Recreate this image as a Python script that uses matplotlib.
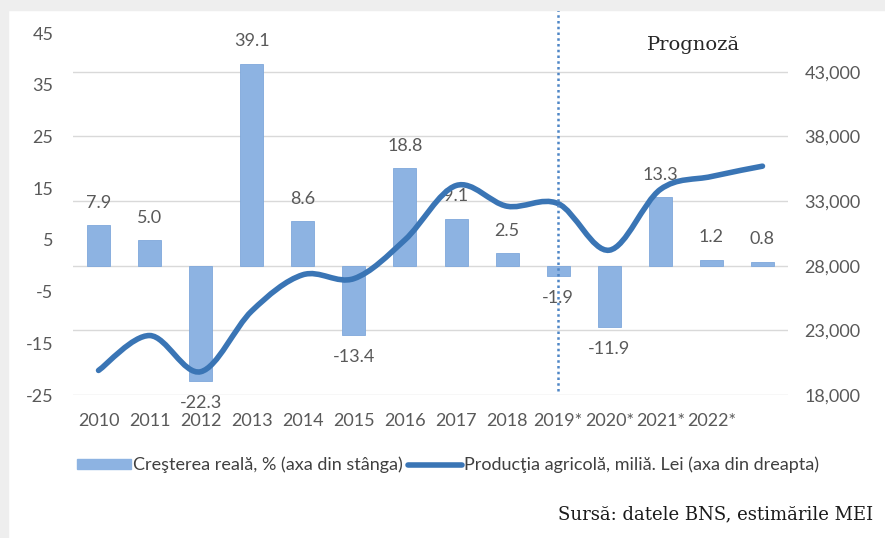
import matplotlib
matplotlib.use("Agg")
import matplotlib.pyplot as plt
from matplotlib.path import Path
from matplotlib.patches import PathPatch, Patch, Rectangle
from matplotlib.lines import Line2D

plt.rcParams["axes.unicode_minus"] = False

# data
years = ["2010", "2011", "2012", "2013", "2014", "2015", "2016", "2017", "2018",
         "2019*", "2020*", "2021*", "2022*", ""]
growth = [7.9, 5.0, -22.3, 39.1, 8.6, -13.4, 18.8, 9.1, 2.5, -1.9, -11.9, 13.3, 1.2, 0.8]
production = [19900, 22600, 19800, 24500, 27300, 27000, 30000, 34200, 32600,
              32800, 29200, 33900, 34900, 35700]
left_ticks = [-25, -15, -5, 5, 15, 25, 35, 45]
right_ticks = [18000, 23000, 28000, 33000, 38000, 43000]

gray = "#595959"
bar_col = "#8db3e2"
line_col = "#3a75b5"
fs = 13

fig = plt.figure(figsize=(8.85, 5.38), dpi=100)
fig.patches.append(Rectangle((0, 1 - 10 / 538), 1, 10 / 538, transform=fig.transFigure,
                             color="#eeeeee", zorder=0))
fig.patches.append(Rectangle((0, 0), 8 / 885, 1, transform=fig.transFigure,
                             color="#eeeeee", zorder=0))

ax1 = fig.add_axes([73 / 885, 1 - 395 / 538, 715 / 885, 362 / 538])
ax2 = ax1.twinx()
ax2.set_zorder(ax1.get_zorder() - 1)
ax1.patch.set_visible(False)

x = list(range(len(years)))
ax1.bar(x, growth, width=0.45, color=bar_col, edgecolor="#7fa8db", linewidth=0.6, zorder=2)
ax1.set_ylim(-25, 45)
ax1.set_xlim(-0.5, len(years) - 0.5)
ax1.set_yticks(left_ticks)
ax1.set_xticks(x)
ax1.set_xticklabels(years)

ax2.set_ylim(18000, 46000)
ax2.set_yticks(right_ticks)
ax2.set_yticklabels([f"{v:,}" for v in right_ticks])
ax2.grid(axis="y", color="#d9d9d9", linewidth=1)
ax2.set_axisbelow(True)

for ax in (ax1, ax2):
    for s in ax.spines.values():
        s.set_visible(False)
ax1.tick_params(axis="y", length=0, pad=14, labelsize=fs, labelcolor=gray)
ax1.tick_params(axis="x", length=0, pad=13, labelsize=fs, labelcolor=gray)
ax2.tick_params(axis="y", length=0, pad=12, labelsize=fs, labelcolor=gray)
for lab in ax1.get_xticklabels() + ax1.get_yticklabels() + ax2.get_yticklabels():
    lab.set_family("Lato")

# data labels
for xi, v in zip(x, growth):
    off = 16 if v >= 0 else -16
    ax1.annotate(f"{v:.1f}", (xi, v), xytext=(0, off), textcoords="offset points",
                 ha="center", va="center", fontsize=fs, color=gray, family="Lato", zorder=3)

# smoothed line (Excel-like bezier through the points)
pts = list(zip(x, production))
verts = [pts[0]]
codes = [Path.MOVETO]
n = len(pts)
for i in range(n - 1):
    p0 = pts[i - 1] if i > 0 else pts[i]
    p1 = pts[i]
    p2 = pts[i + 1]
    p3 = pts[i + 2] if i + 2 < n else pts[i + 1]
    c1 = (p1[0] + (p2[0] - p0[0]) / 6, p1[1] + (p2[1] - p0[1]) / 6)
    c2 = (p2[0] - (p3[0] - p1[0]) / 6, p2[1] - (p3[1] - p1[1]) / 6)
    verts += [c1, c2, p2]
    codes += [Path.CURVE4] * 3
ax1.add_patch(PathPatch(Path(verts, codes), transform=ax2.transData, fill=False,
                        edgecolor=line_col, linewidth=4, capstyle="round", zorder=4))

# forecast separator
ax1.axvline(9, ymin=0.01, ymax=(395 - 8) / 362, color="#4f86c6", linestyle=(0, (1, 1.3)),
            linewidth=1.8, clip_on=False, zorder=5)
fig.text(693 / 885, 1 - 45 / 538, "Prognoză", ha="center", va="center", fontsize=14,
         family="DejaVu Serif", color="#262626")

handles = [Patch(facecolor=bar_col, edgecolor=bar_col),
           Line2D([0], [0], color=line_col, linewidth=4, solid_capstyle="round")]
fig.legend(handles, ["Creşterea reală, % (axa din stânga)",
                     "Producţia agricolă, miliă. Lei (axa din dreapta)"],
           loc="center", bbox_to_anchor=(448 / 885, 1 - 465 / 538), ncol=2, frameon=False,
           prop={"family": "Lato", "size": 13}, labelcolor="#404040",
           handlelength=3.0, handleheight=0.5, handletextpad=0.1, columnspacing=0.3)

fig.text(873 / 885, 1 - 514 / 538, "Sursă: datele BNS, estimările MEI", ha="right", va="center",
         fontsize=13, family="DejaVu Serif", color="#1a1a1a")

fig.savefig("out.png", dpi=100)
